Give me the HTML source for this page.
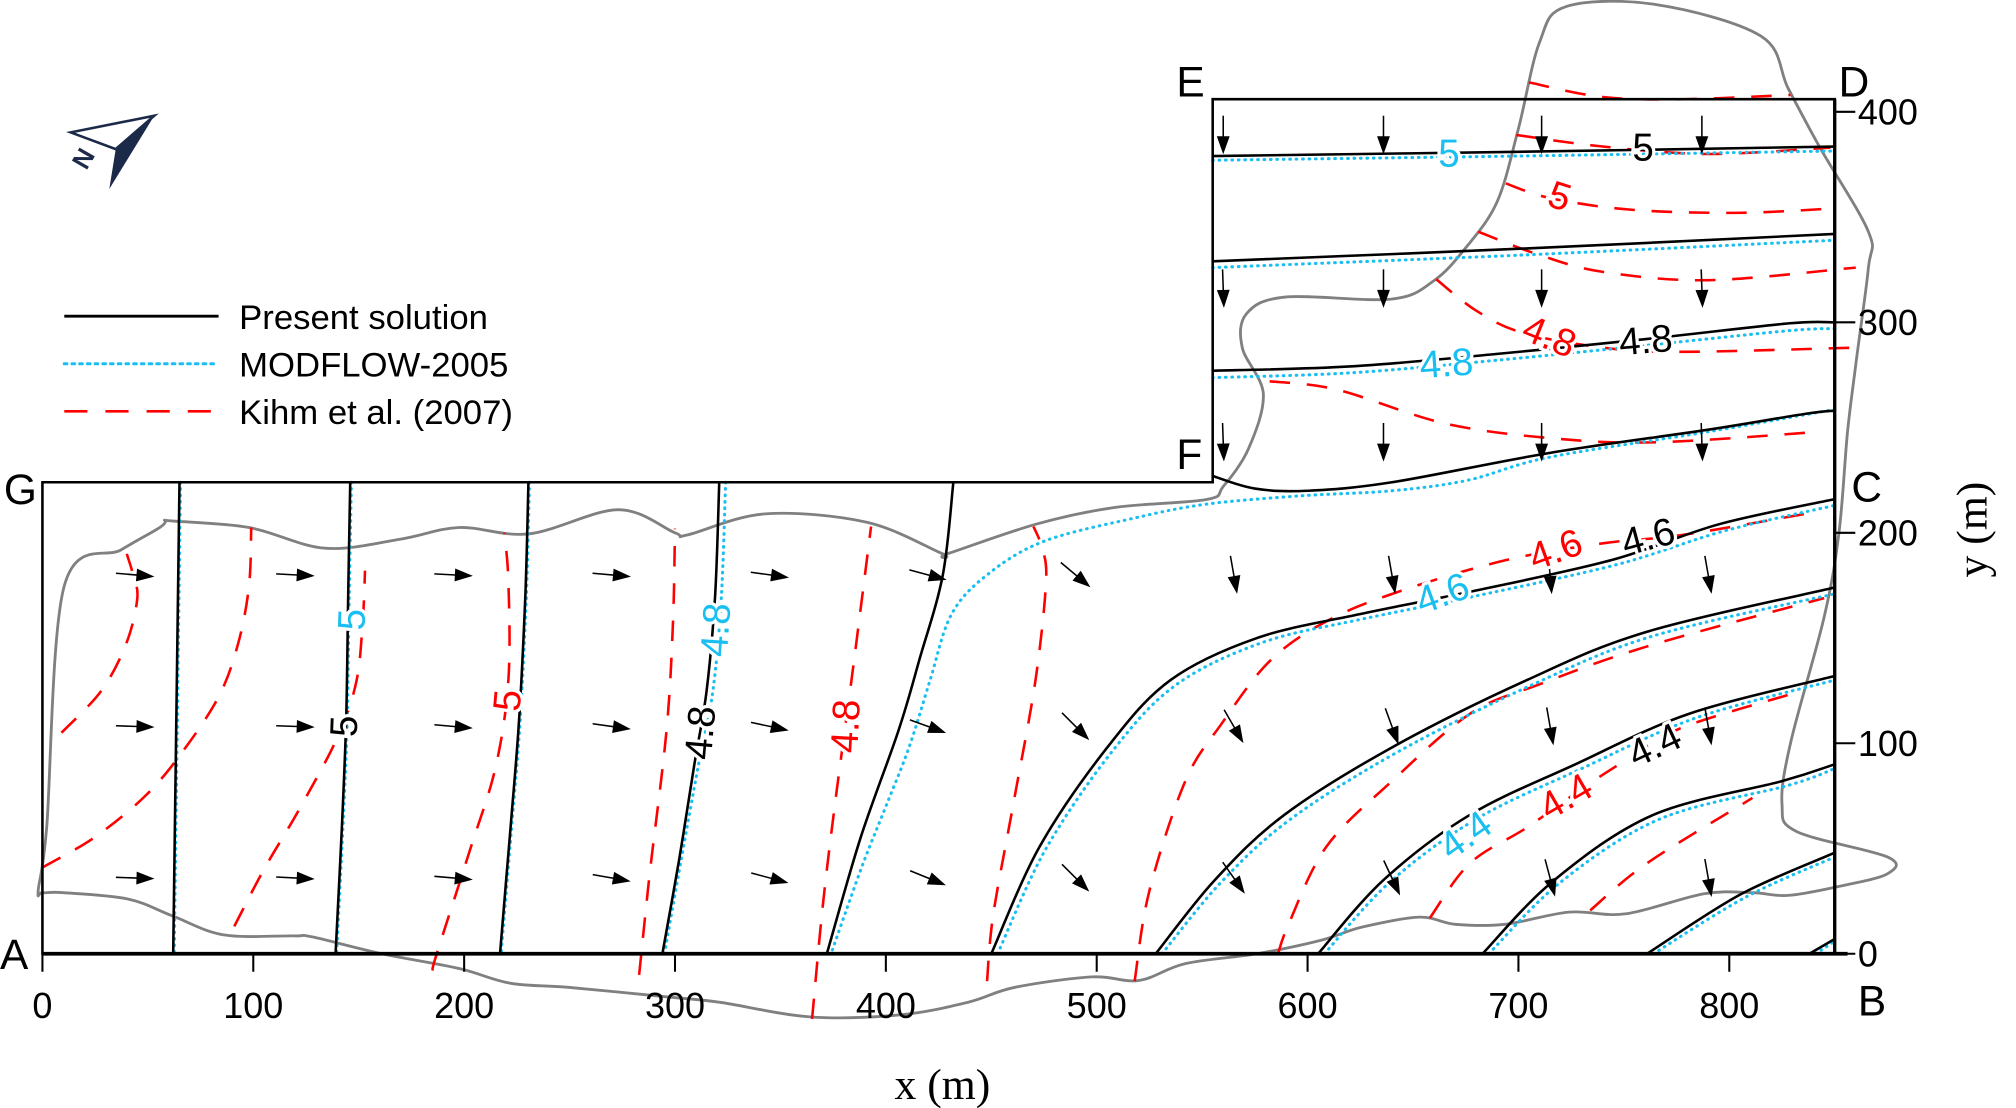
<!DOCTYPE html>
<html><head><meta charset="utf-8">
<style>
html,body{margin:0;padding:0;background:#fff;}
svg{display:block;}
text{font-family:"Liberation Sans",Arial,sans-serif;}
.serif{font-family:"Liberation Serif","Times New Roman",serif;}
</style></head>
<body>
<svg id="chart" xmlns="http://www.w3.org/2000/svg" width="2016" height="1108" viewBox="0 0 1568 862" preserveAspectRatio="none">
  <rect x="0" y="0" width="1568" height="862" fill="#fff"/>
  <g id="outline-layer"></g>
  <g id="red-layer"></g>
  <g id="blue-layer"></g>
  <g id="black-layer"></g>
  <g id="arrow-layer"></g>
  <g id="frame-layer"></g>
  <g id="label-layer"></g>
  <g id="axis-layer"></g>

  <!-- north arrow -->
  <g>
    <polygon points="55,103 120,90 90,116" fill="#fff" stroke="#1c2a4a" stroke-width="2"/>
    <polygon points="120,90 90,116 85,147" fill="#1c2a4a"/>
    <text x="62" y="136" font-size="20" font-weight="bold" fill="#1c2a4a" transform="rotate(-60 62 130)">N</text>
  </g>

  <!-- legend -->
  <g>
    <g>
      <line x1="50" y1="246" x2="170" y2="246" stroke="#000" stroke-width="2.2"/>
      <text x="186" y="256" font-size="27">Present solution</text>
    </g>
    <g>
      <line x1="50" y1="283" x2="170" y2="283" stroke="#19bff0" stroke-width="2.4" stroke-dasharray="2 4" stroke-linecap="round"/>
      <text x="186" y="293" font-size="27">MODFLOW-2005</text>
    </g>
    <g>
      <line x1="50" y1="320" x2="170" y2="320" stroke="#ff0000" stroke-width="2" stroke-dasharray="18 14"/>
      <text x="186" y="330" font-size="27">Kihm et al. (2007)</text>
    </g>
  </g>
</svg>
<script>
// ---- axis data ----
const xTicks = [0,100,200,300,400,500,600,700,800];
const yTicks = [0,100,200,300,400];
const xMax = 850, boxTop = 406, leftTop = 224, fLeft = 555;

// ---- present solution (black) contours, [x m, y m] ----
const blackL1 = [[65,224],[62,0]];
const blackL2 = [[146,224],[145,170],[144,110],[142,60],[139,0]];
const blackL3 = [[230.5,224],[229,170],[226,110],[222,60],[217,0]];
const blackL4 = [[321,224],[319,170],[315,125],[309,89],[302,45],[294,0]];
const blackL5 = [[432,224],[427,180],[416,140],[406,106],[388,55],[372,0]];
const blackC6 = [[450,0],[473,51],[505,98],[535,130],[576,150],[623,161],[677,172],[744,187],[795,204],[850,216]];
const blackC7 = [[528,0],[556,35],[589,66],[640,98],[704,130],[761,153],[850,174]];
const blackC8 = [[605,0],[636,35],[677,66],[727,90],[781,114],[850,132]];
const blackC9 = [[683,0],[717,35],[764,66],[825,82],[850,90]];
const blackC10 = [[761,0],[805,28],[850,48]];
const blackC11 = [[838,0],[850,7]];
const blackU1 = [[555,379],[700,381],[850,383.5]];
const blackU2 = [[555,329],[702,335],[850,342]];
const blackU3 = [[555,277],[620,279],[690,285],[760,292],[828,299.5],[850,300]];
const blackU4 = [[555,227],[575,221],[600,220],[640,224],[715,238],[790,249],[836,256.5],[850,258]];

// ---- MODFLOW-2005 (blue) contours ----
const blueL1 = [[65.5,224],[62.5,0]];
const blueL2 = [[146.5,224],[145.5,170],[144.5,110],[142.5,60],[139.5,0]];
const blueL3 = [[231,224],[229.5,170],[226.5,110],[222.5,60],[217.5,0]];
const blueL4 = [[324,224],[322,170],[318,125],[311,89],[303,45],[295,0]];
const blueL5 = [[850,258.6],[790,248],[715,236],[676,225],[640,220],[596,217.5],[552,213.6],[518,207],[475,196],[448,180],[431,161],[421,130],[411,98],[400,70],[390,45],[381,20],[374,0]];
const blueC6 = [[453,0],[476,50],[508,97],[538,128],[579,148],[626,159],[680,170],[747,185],[798,201],[850,213]];
const blueC7 = [[531,0],[559,34],[592,64],[643,96],[707,128],[764,151],[850,171]];
const blueC8 = [[608,0],[639,34],[680,64],[730,88],[784,112],[850,130]];
const blueC9 = [[686,0],[720,34],[767,64],[828,80],[850,88]];
const blueC10 = [[764,0],[808,27],[850,46]];
const blueC11 = [[841,0],[850,6]];
const blueU1 = [[555,377],[700,379],[850,381.4]];
const blueU2 = [[555,326],[702,332],[850,339]];
const blueU3 = [[555,273.7],[620,276],[690,282],[760,289],[828,296],[850,297]];

// ---- Kihm et al. (2007) (red) contours ----
const redK0 = [[9,105],[28,125],[40,148],[45,169],[43,180],[40,190]];
const redK1 = [[0,41],[25,55.5],[49.5,75.7],[67.7,97.7],[84,123],[93,148],[98,175],[99,202.5]];
const redK2 = [[91,13],[105,40],[122,69],[140,103],[149,130],[152,160],[153,182]];
const redK3 = [[185,-8],[187,0],[203,50],[215,89],[221,130],[221,177],[219,200]];
const redK4 = [[283,-10],[288,38],[296,106],[299,157],[300,202]];
const redK5 = [[365,-31],[370,22],[376,72],[385,140],[393,203]];
const redK6 = [[448,-13],[451,19],[461,74],[471,130],[476,177],[474,193],[470,203]];
const redK7 = [[518,-13],[525,30],[542,82],[559,109],[582,139],[609,158],[643,172],[694,187],[740,195],[778,199],[842,210]];
const redK8 = [[586,0],[591,14],[609,51],[640,82],[677,114],[710,128],[761,146],[845,169]];
const redK9 = [[658,17],[677,43],[704,60],[731,79],[751,92],[778,107.6],[835,125]];
const redK10 = [[734,20.6],[761,43],[811,74]];
const redU0 = [[705,414],[740,407],[778,406],[829,408]];
const redU1 = [[699,389],[740,383.5],[790,380],[848,383]];
const redU2 = [[694,366],[715,359],[753,353.5],[803,352],[848,354]];
const redU3 = [[681,343],[710,332],[740,324],[790,320],[860,326]];
const redU4 = [[661,320.5],[680,305.5],[702,295],[740,288],[778,286],[861,288]];
const redU5 = [[582,272],[614,268],[665,252],[715,245],[765,243],[843,248]];

// ---- site outline (gray) ----
const outlinePts = [[58.6,206],[61.6,205.6],[98,202.5],[134,192.7],[170,197],[197.6,202.5],[231,199.5],[273,211],[300,200],[306,199],[342.6,209],[391,205],[427,190],[429,190],[471,204],[508,212],[552,215.8],[560,222],[572,240],[579,266],[569,288],[571,304],[589.4,312],[639.7,311],[659.8,319.7],[675,335.4],[690,357.5],[700,392],[710,433],[722.6,450],[765,451],[815,436],[828,411],[843,383],[866,343],[866,326],[860,280],[856,247],[852,200],[845,160],[829,100],[825,71],[832,58],[875,46],[875,38],[852,32],[828,27.7],[811,29],[788,28.5],[751,19],[724,19.8],[693.6,14],[670,14],[653,17.4],[626,12.7],[606,6.3],[576,0],[542,-4.7],[520,-12.7],[497.6,-11],[461,-16],[439,-23],[407,-29],[364,-30],[321,-23],[297,-20.6],[250,-16],[221.8,-14],[197.6,-7],[161,0],[128,8],[119,8.5],[86,9],[61.6,18],[40.5,26],[10,29],[0,29],[-2,30],[2,60],[10.3,174.6],[37.5,192],[55.6,202.5]];

// ---- flow arrows: [x m, y m, angle deg below horizontal / direction] ----
const arrowsX = [44,120,195,270,345,420, 44,120,195,270,345,420, 44,120,195,270,345,420,
                 490,565,640,715,790, 490,565,640,715,790, 490,565,640,715,790,
                 560,636,711,787, 560,636,711,787, 560,636,711,787];
const arrowsY = [180,180,180,180,180,180, 108,108,108,108,108,108, 36,36,36,36,36,36,
                 180,180,180,180,180, 108,108,108,108,108, 36,36,36,36,36,
                 389,389,389,389, 316,316,316,316, 243,243,243,243];
const arrowsAngle = [5,3,3,5,8,15, 2,2,5,8,12,20, 2,3,5,10,15,22,
                     40,80,80,85,80, 45,60,70,80,80, 45,55,65,75,80,
                     90,90,90,90, 88,90,90,88, 88,90,90,88];

// ---- contour labels ----
const labelText = ["5","4.8","4.6","4.4","5","4.8", "5","4.8","4.6","4.4","5","4.8", "5","4.8","4.6","4.4","5","4.8"];
const labelX = [1127,1125,1122,1140,274,557, 1278,1280,1282,1287,268,545, 1213,1205,1210,1218,395,658];
const labelY = [120,283,462,650,482,490, 115,265,418,580,565,570, 153,262,428,620,545,565];
const labelRot = [0,-4,-20,-35,-88,-86, 0,-5,-15,-25,-88,-85, 18,22,-20,-30,-85,-87];
const labelColor = ["#19bff0","#19bff0","#19bff0","#19bff0","#19bff0","#19bff0","#000","#000","#000","#000","#000","#000","#ff0000","#ff0000","#ff0000","#ff0000","#ff0000","#ff0000"];

// ---- axis functions ----
const X = m => 33 + m * 1.64;
const Y = m => 742 - m * 1.6375;
const NS = "http://www.w3.org/2000/svg";

function smoothPath(pts){
  const p = pts.map(q => [X(q[0]), Y(q[1])]);
  if (p.length < 3) return "M" + p.map(q => q[0].toFixed(1) + "," + q[1].toFixed(1)).join(" L");
  let d = "M" + p[0][0].toFixed(1) + "," + p[0][1].toFixed(1);
  for (let i = 0; i < p.length - 1; i++) {
    const p0 = p[i-1] || p[i], p1 = p[i], p2 = p[i+1], p3 = p[i+2] || p2;
    const c1 = [p1[0] + (p2[0]-p0[0])/6, p1[1] + (p2[1]-p0[1])/6];
    const c2 = [p2[0] - (p3[0]-p1[0])/6, p2[1] - (p3[1]-p1[1])/6];
    d += " C" + c1[0].toFixed(1) + "," + c1[1].toFixed(1) + " " + c2[0].toFixed(1) + "," + c2[1].toFixed(1) + " " + p2[0].toFixed(1) + "," + p2[1].toFixed(1);
  }
  return d;
}

function addLine(layerId, pts, name, stroke, width, dash, cap){
  const el = document.createElementNS(NS, "path");
  el.setAttribute("d", smoothPath(pts));
  el.setAttribute("fill", "none");
  el.setAttribute("stroke", stroke);
  el.setAttribute("stroke-width", width);
  if (dash) el.setAttribute("stroke-dasharray", dash);
  if (cap) el.setAttribute("stroke-linecap", cap);
  
  
  document.getElementById(layerId).appendChild(el);
}

// outline
(function(){
  const el = document.createElementNS(NS, "path");
  el.setAttribute("d", smoothPath(outlinePts.concat([outlinePts[0]])));
  el.setAttribute("fill", "none");
  el.setAttribute("stroke", "#808080");
  el.setAttribute("stroke-width", "2.2");
  
  
  document.getElementById("outline-layer").appendChild(el);
})();

const redSet = [redK0,redK1,redK2,redK3,redK4,redK5,redK6,redK7,redK8,redK9,redK10,redU0,redU1,redU2,redU3,redU4,redU5];
redSet.forEach((c, i) => addLine("red-layer", c, "kihm-contour-" + i, "#ff0000", 2, "16 13", null));
const blueSet = [blueL1,blueL2,blueL3,blueL4,blueL5,blueC6,blueC7,blueC8,blueC9,blueC10,blueC11,blueU1,blueU2,blueU3];
blueSet.forEach((c, i) => addLine("blue-layer", c, "modflow-contour-" + i, "#19bff0", 2.4, "0.5 4.5", "round"));
const blackSet = [blackL1,blackL2,blackL3,blackL4,blackL5,blackC6,blackC7,blackC8,blackC9,blackC10,blackC11,blackU1,blackU2,blackU3,blackU4];
blackSet.forEach((c, i) => addLine("black-layer", c, "present-contour-" + i, "#000", 2, null, null));

// arrows
(function(){
  const layer = document.getElementById("arrow-layer");
  for (let i = 0; i < arrowsX.length; i++) {
    const cx = X(arrowsX[i]), cy = Y(arrowsY[i]);
    const a = arrowsAngle[i] * Math.PI / 180;
    const L = 30, dx = Math.cos(a), dy = Math.sin(a);
    const x0 = cx - dx*L/2, y0 = cy - dy*L/2, x1 = cx + dx*L/2, y1 = cy + dy*L/2;
    const g = document.createElementNS(NS, "g");
    
    
    const ln = document.createElementNS(NS, "line");
    ln.setAttribute("x1", x0); ln.setAttribute("y1", y0);
    ln.setAttribute("x2", x1 - dx*8); ln.setAttribute("y2", y1 - dy*8);
    ln.setAttribute("stroke", "#000"); ln.setAttribute("stroke-width", "1.2");
    g.appendChild(ln);
    const hx = x1 - dx*14, hy = y1 - dy*14, px = -dy*5, py = dx*5;
    const head = document.createElementNS(NS, "polygon");
    head.setAttribute("points", x1+","+y1+" "+(hx+px)+","+(hy+py)+" "+(hx-px)+","+(hy-py));
    head.setAttribute("fill", "#000");
    g.appendChild(head);
    layer.appendChild(g);
  }
})();

// frame
(function(){
  const layer = document.getElementById("frame-layer");
  const pts = [[0,0],[xMax,0],[xMax,boxTop],[fLeft,boxTop],[fLeft,leftTop],[0,leftTop]];
  const el = document.createElementNS(NS, "polygon");
  el.setAttribute("points", pts.map(p => X(p[0]) + "," + Y(p[1])).join(" "));
  el.setAttribute("fill", "none");
  el.setAttribute("stroke", "#000");
  el.setAttribute("stroke-width", "2");
  
  
  layer.appendChild(el);
  const base = document.createElementNS(NS, "line");
  base.setAttribute("x1", X(0)); base.setAttribute("y1", Y(0));
  base.setAttribute("x2", X(xMax)+10); base.setAttribute("y2", Y(0));
  base.setAttribute("stroke", "#000"); base.setAttribute("stroke-width", "3");
  
  
  layer.appendChild(base);
  const right = document.createElementNS(NS, "line");
  right.setAttribute("x1", X(xMax)); right.setAttribute("y1", Y(0));
  right.setAttribute("x2", X(xMax)); right.setAttribute("y2", Y(boxTop));
  right.setAttribute("stroke", "#000"); right.setAttribute("stroke-width", "2.6");
  
  
  layer.appendChild(right);
})();

// contour labels
(function(){
  const layer = document.getElementById("label-layer");
  for (let i = 0; i < labelText.length; i++) {
    const t = document.createElementNS(NS, "text");
    t.setAttribute("x", labelX[i]); t.setAttribute("y", labelY[i]);
    t.setAttribute("font-size", "30");
    t.setAttribute("text-anchor", "middle");
    t.setAttribute("dominant-baseline", "central");
    t.setAttribute("fill", labelColor[i]);
    t.setAttribute("stroke", "#fff"); t.setAttribute("stroke-width", "5");
    t.setAttribute("paint-order", "stroke");
    t.setAttribute("transform", "rotate(" + labelRot[i] + " " + labelX[i] + " " + labelY[i] + ")");
    t.textContent = labelText[i];
    
    
    layer.appendChild(t);
  }
})();

// axes ticks & labels
(function(){
  const layer = document.getElementById("axis-layer");
  xTicks.forEach(v => {
    const ln = document.createElementNS(NS, "line");
    ln.setAttribute("x1", X(v)); ln.setAttribute("x2", X(v));
    ln.setAttribute("y1", Y(0)); ln.setAttribute("y2", Y(0) + 14);
    ln.setAttribute("stroke", "#000"); ln.setAttribute("stroke-width", "1.6");
    
    
    layer.appendChild(ln);
    const t = document.createElementNS(NS, "text");
    t.setAttribute("x", X(v)); t.setAttribute("y", 792);
    t.setAttribute("font-size", "28"); t.setAttribute("text-anchor", "middle");
    t.textContent = v;
    
    
    layer.appendChild(t);
  });
  yTicks.forEach(v => {
    const ln = document.createElementNS(NS, "line");
    ln.setAttribute("x1", X(xMax)); ln.setAttribute("x2", X(xMax) + 16);
    ln.setAttribute("y1", Y(v)); ln.setAttribute("y2", Y(v));
    ln.setAttribute("stroke", "#000"); ln.setAttribute("stroke-width", "1.6");
    
    
    layer.appendChild(ln);
    const t = document.createElementNS(NS, "text");
    t.setAttribute("x", X(xMax) + 18); t.setAttribute("y", Y(v) + 10);
    t.setAttribute("font-size", "28");
    t.textContent = v;
    
    
    layer.appendChild(t);
  });
  const corners = [["A",0,754],["B",1445,790],["C",1440,390],["D",1430,75],["E",915,75],["F",915,365],["G",3,392]];
  corners.forEach(c => {
    const t = document.createElementNS(NS, "text");
    t.setAttribute("x", c[1]); t.setAttribute("y", c[2]);
    t.setAttribute("font-size", "33");
    t.textContent = c[0];
    
    
    layer.appendChild(t);
  });
  const xt = document.createElementNS(NS, "text");
  xt.setAttribute("x", 733); xt.setAttribute("y", 855);
  xt.setAttribute("font-size", "34"); xt.setAttribute("text-anchor", "middle");
  xt.setAttribute("class", "serif");
  xt.textContent = "x (m)";
  
  
  layer.appendChild(xt);
  const yt = document.createElementNS(NS, "text");
  yt.setAttribute("x", 1545); yt.setAttribute("y", 412);
  yt.setAttribute("font-size", "34"); yt.setAttribute("text-anchor", "middle");
  yt.setAttribute("class", "serif");
  yt.setAttribute("transform", "rotate(-90 1545 412)");
  yt.textContent = "y (m)";
  
  
  layer.appendChild(yt);
})();
</script>
</body></html>
